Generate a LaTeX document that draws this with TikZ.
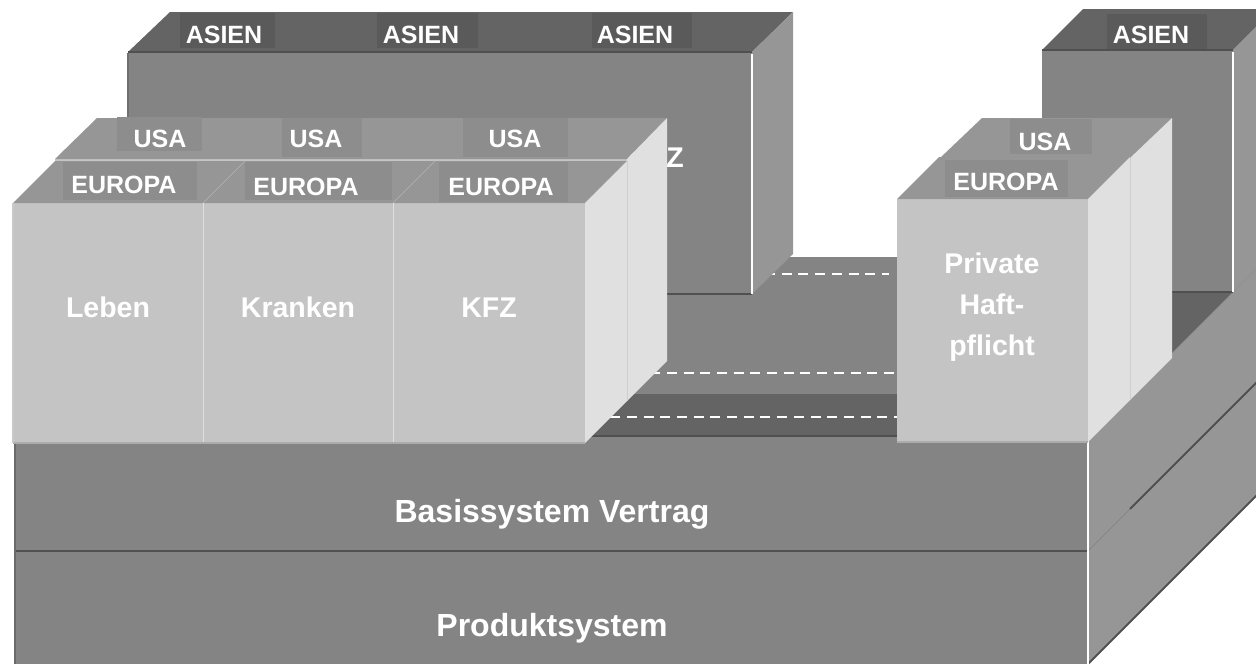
\documentclass[tikz,border=0pt]{standalone}
\usepackage{fontspec}
\setmainfont{Liberation Sans}
\definecolor{cFront}{HTML}{848484}
\definecolor{cTopDark}{HTML}{646464}
\definecolor{cSide}{HTML}{969696}
\definecolor{cLight}{HTML}{C4C4C4}
\definecolor{cLightSide}{HTML}{E0E0E0}
\definecolor{cEdge}{HTML}{505050}
\definecolor{cLabDark}{HTML}{5A5A5A}
\definecolor{cLabMid}{HTML}{8D8D8D}
\begin{document}
\begin{tikzpicture}[x=1pt,y=-1pt,
  lab/.style={font=\fontsize{25}{25}\selectfont\bfseries, text=white, anchor=base, inner sep=0pt},
  coltxt/.style={font=\fontsize{28.5}{41}\selectfont\bfseries, text=white, anchor=base, inner sep=0pt},
  basetxt/.style={font=\fontsize{32}{32}\selectfont\bfseries, text=white, anchor=base, inner sep=0pt},
  dashline/.style={draw=white, line width=2.5pt, dash pattern=on 10pt off 6.7pt},
  edge/.style={draw=cEdge, line width=2.5pt},
  whiteedge/.style={draw=white, line width=1.6pt},
  darkface/.style={fill=cTopDark},
  midface/.style={fill=cFront},
  sideface/.style={fill=cSide},
  lightface/.style={fill=cLight},
  lightside/.style={fill=cLightSide},
  labdark/.style={fill=cLabDark},
  labmid/.style={fill=cLabMid},
  divider/.style={draw=cLight!55!white, line width=1pt},
  topdiv/.style={draw=cSide!70!white, line width=0.6pt}
]
\useasboundingbox (0,0) rectangle (1256,664);
\clip (0,0) rectangle (1256,664);

% ---------------- base slab ----------------
\fill[sideface] (1088,437) -- (1268,257) -- (1268,484) -- (1088,664) -- cycle;
\draw[edge, line width=2pt] (1088,664) -- (1268,484);
\draw[draw=cSide!85!black, line width=0.6pt] (1088,551) -- (1130,509);
\draw[edge, line width=2pt] (1130,509) -- (1268,371);
\fill[darkface] (15,437) -- (1088,437) -- (1268,257) -- (195,257) -- cycle;
\fill[midface] (150,257) rectangle (1000,394);
\fill[midface] (15,437) rectangle (1088,664);
\draw[edge, line width=2pt] (15,436) -- (1088,436);
\draw[edge, line width=2.2pt] (15,551) -- (1088,551);
\draw[draw=cFront!80!black, line width=1.5pt] (15,437) -- (15,664);
\draw[whiteedge] (1088,437) -- (1088,664);
\node[basetxt] (basis) at (552,522) {Basissystem Vertrag};
\node[basetxt] (produkt) at (552,636) {Produktsystem};

% ---------------- dashed layer lines ----------------
\draw[dashline] (560,417) -- (897,417);
\draw[dashline] (600,373) -- (899,373);
\draw[dashline] (765,274) -- (889,274);

% ---------------- ASIEN layer (back) ----------------
\fill[midface] (128,52) rectangle (752,294);
\fill[darkface] (128,52) -- (752,52) -- (793,12) -- (170,12) -- cycle;
\fill[sideface] (752,52) -- (793,12) -- (793,254) -- (752,294) -- cycle;
\draw[edge] (128,52) -- (752,52);
\draw[edge, line width=2pt] (128,294) -- (752,294);
\draw[draw=cFront!85!black, line width=1.5pt] (128,53) -- (128,294);
\draw[whiteedge] (752,54) -- (752,294);
\fill[labdark] (180,13) rectangle (275,48);
\fill[labdark] (377,13) rectangle (478,48);
\fill[labdark] (592,13) rectangle (692,48);
\node[lab] (as1) at (224,43) {ASIEN};
\node[lab] (as2) at (421,43) {ASIEN};
\node[lab] (as3) at (635,43) {ASIEN};
\node[coltxt] (kfzback) at (656,167) {KFZ};

\fill[midface] (1042,50) rectangle (1233,292);
\fill[darkface] (1042,50) -- (1233,50) -- (1274,9) -- (1083,9) -- cycle;
\fill[sideface] (1233,50) -- (1274,9) -- (1274,251) -- (1233,292) -- cycle;
\draw[edge] (1042,50) -- (1233,50);
\draw[edge, line width=2pt] (1042,292) -- (1233,292);
\draw[whiteedge] (1233,52) -- (1233,292);
\fill[labdark] (1107,14) rectangle (1207,49);
\node[lab] (as4) at (1151,43) {ASIEN};

% ---------------- USA layer (middle) ----------------
\fill[lightface] (55,159) rectangle (627,401);
\fill[sideface] (55,159) -- (627,159) -- (667,118) -- (97,118) -- cycle;
\fill[lightside] (627,159) -- (667,118) -- (667,361) -- (627,401) -- cycle;
\fill[labmid] (117,117) rectangle (202,151);
\fill[labmid] (282,118) rectangle (362,157);
\fill[labmid] (463,118) rectangle (568,157);
\node[lab] (us1) at (160,147) {USA};
\node[lab] (us2) at (316,147) {USA};
\node[lab] (us3) at (515,147) {USA};

\fill[lightface] (940,158) rectangle (1130,400);
\fill[sideface] (940,158) -- (1130,158) -- (1172,118) -- (982,118) -- cycle;
\fill[lightside] (1130,158) -- (1172,118) -- (1172,358) -- (1130,400) -- cycle;
\fill[labmid] (1010,119) rectangle (1092,154);
\node[lab] (us4) at (1045,150) {USA};

% ---------------- EUROPA layer (front) ----------------
\fill[lightface] (13,203) rectangle (585,443);
\fill[sideface] (13,203) -- (585,203) -- (627,161) -- (55,161) -- cycle;
\fill[lightside] (585,203) -- (627,161) -- (627,401) -- (585,443) -- cycle;
\draw[draw=cLightSide!92!black, line width=1pt] (627,161) -- (627,401);
\draw[divider] (203,203) -- (203,443);
\draw[divider] (393,203) -- (393,443);
\draw[topdiv] (203,203) -- (245,161);
\draw[topdiv] (393,203) -- (435,161);
\draw[draw=cLight!88!black, line width=1.5pt] (13,443) -- (585,443);
\draw[draw=cLight!92!white, line width=1.2pt] (13,203) -- (13,443);
\fill[labmid] (63,162) rectangle (197,200);
\fill[labmid] (245,162) rectangle (392,200);
\fill[labmid] (439,162) rectangle (568,202);
\node[lab] (eu1) at (124,193) {EUROPA};
\node[lab] (eu2) at (306,195) {EUROPA};
\node[lab] (eu3) at (501,195) {EUROPA};
\node[coltxt] (leben) at (108,317) {Leben};
\node[coltxt] (kranken) at (298,317) {Kranken};
\node[coltxt] (kfz) at (489,317) {KFZ};

\fill[lightface] (897,199) rectangle (1088,442);
\fill[sideface] (897,199) -- (1088,199) -- (1130,157) -- (939,157) -- cycle;
\fill[lightside] (1088,199) -- (1130,157) -- (1130,400) -- (1088,442) -- cycle;
\draw[draw=cLightSide!92!black, line width=1pt] (1130,158) -- (1130,400);
\draw[draw=cLight!88!black, line width=1.5pt] (897,442) -- (1088,442);
\fill[labmid] (945,160) rectangle (1068,197);
\node[lab] (eu4) at (1006,190) {EUROPA};
\node[coltxt] (ph1) at (992,273) {Private};
\node[coltxt] (ph2) at (992,314) {Haft-};
\node[coltxt] (ph3) at (992,355) {pflicht};
\end{tikzpicture}
\end{document}
